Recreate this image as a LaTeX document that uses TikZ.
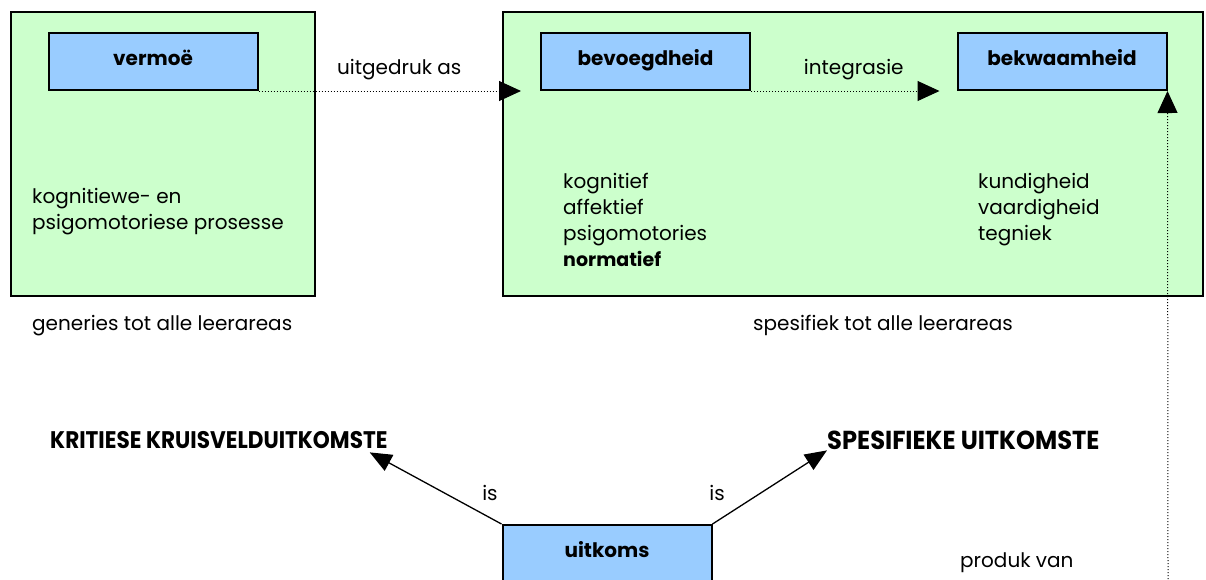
\documentclass[tikz,border=0pt]{standalone}
\usepackage{fontspec}
\setmainfont{Poppins}
\usepackage{graphicx}
\usetikzlibrary{arrows.meta,calc}
\definecolor{areagreen}{HTML}{CCFFCC}
\definecolor{conceptblue}{HTML}{99CCFF}
% bold face for headings, optionally condensed
\newcommand{\narrowbold}[2][1]{\scalebox{#1}[1]{\bfseries #2}}
\tikzset{
  area/.style={draw=black, line width=1.6pt, fill=areagreen, inner sep=0pt},
  concept/.style={draw=black, line width=2pt, fill=conceptblue, inner sep=0pt,
    minimum width=209pt, text height=32pt, text depth=25pt,
    font=\fontsize{20}{24}\selectfont},
  txt/.style={inner sep=0pt, font=\fontsize{20}{26}\selectfont},
  dotlink/.style={dotted, line width=1pt, -{Triangle[length=22pt,width=20pt]}},
  solidlink/.style={line width=1.3pt, -{Triangle[length=22pt,width=18pt]}},
}
\begin{document}
\begin{tikzpicture}[x=1pt,y=-1pt]
\useasboundingbox (0,0) rectangle (1206,579);
\clip (0,0) rectangle (1206,579);

% learning areas
\node[area, minimum width=304pt, minimum height=284pt] (generic) at (163,154) {};
\node[area, minimum width=700pt, minimum height=284pt] (specific) at (853,154) {};

% concepts
\node[concept] (vermoe) at (153,61.5) {\narrowbold{vermoë}};
\node[concept] (bevoegdheid) at (645.5,61.5) {\narrowbold{bevoegdheid}};
\node[concept] (bekwaamheid) at (1062,61.5) {\narrowbold{bekwaamheid}};
\node[concept] (uitkoms) at (607,553.5) {\narrowbold{uitkoms}};

% texts inside the areas (anchored at the baseline of the last line)
\node[txt, anchor=base west, align=left] (procs) at (32,229)
  {kognitiewe- en\\psigomotoriese prosesse};
\node[txt, anchor=base west, align=left] (domains) at (563,266)
  {kognitief\\affektief\\psigomotories\\{\bfseries\fontsize{19}{26}\selectfont normatief}};
\node[txt, anchor=base west, align=left] (skills) at (978,240)
  {kundigheid\\vaardigheid\\tegniek};

% captions under the areas
\node[txt, anchor=base west] (gencap) at (32,330) {generies tot alle leerareas};
\node[txt, anchor=base] (speccap) at (883,330) {spesifiek tot alle leerareas};

% outcomes
\node[txt, anchor=base west, font=\fontsize{24}{28}\selectfont] (critical) at (50,448)
  {\narrowbold[0.9]{KRITIESE KRUISVELDUITKOMSTE}};
\node[txt, anchor=base west, font=\fontsize{26}{30}\selectfont] (specout) at (827,449)
  {\narrowbold[0.93]{SPESIFIEKE UITKOMSTE}};

% connectors
\draw[dotlink, shorten >=19pt] (vermoe.south east) -- (bevoegdheid.south west)
  node[txt, midway, above=11pt] (expr) {uitgedruk as};
\draw[dotlink, shorten >=17pt] (bevoegdheid.south east) -- (bekwaamheid.south west)
  node[txt, midway, above=11pt] (integ) {integrasie};
\coordinate (produkfoot) at (1168,579);
\draw[dotlink] (produkfoot) -- (bekwaamheid.south east);
\node[txt, anchor=base west] (produk) at (960,567) {produk van};

\draw[solidlink] (uitkoms.north west) -- ($(critical.south east)+(-18,4)$);
\draw[solidlink] (uitkoms.north east) -- ($(specout.south west)+(0,1)$);
\node[txt] (is1) at (490,493) {is};
\node[txt] (is2) at (717,493) {is};
\end{tikzpicture}
\end{document}
